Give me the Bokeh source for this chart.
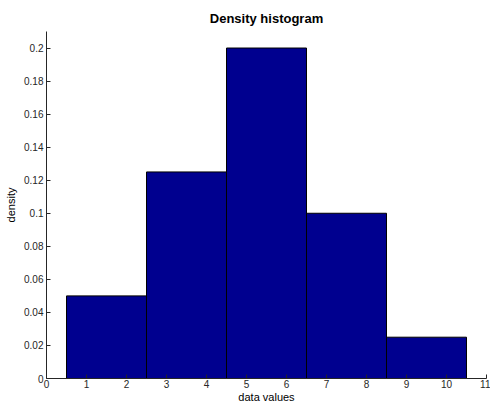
from bokeh.plotting import figure
from bokeh.models import FixedTicker, Range1d
from bokeh.embed import file_html
from bokeh.resources import INLINE

bin_left = [0.5, 2.5, 4.5, 6.5, 8.5]
bin_right = [2.5, 4.5, 6.5, 8.5, 10.5]
density = [0.05, 0.125, 0.2, 0.1, 0.025]

x_ticks = [0, 1, 2, 3, 4, 5, 6, 7, 8, 9, 10, 11]
x_tick_labels = ["0", "1", "2", "3", "4", "5", "6", "7", "8", "9", "10", "11"]
y_ticks = [0, 0.02, 0.04, 0.06, 0.08, 0.1, 0.12, 0.14, 0.16, 0.18, 0.2]
y_tick_labels = ["0", "0.02", "0.04", "0.06", "0.08", "0.1", "0.12", "0.14", "0.16", "0.18", "0.2"]

FONT = "Liberation Sans"

p = figure(width=490, height=405, output_backend="svg", toolbar_location=None,
           x_range=Range1d(0, 11), y_range=Range1d(0, 0.21),
           min_border_left=46, min_border_right=4, min_border_top=31, min_border_bottom=26)
p.title.text = "Density histogram"
p.title.align = "center"
p.title.vertical_align = "middle"
p.title.text_font = FONT
p.title.text_font_size = "13px"
p.title.text_font_style = "bold"
p.title.text_color = "#000000"

p.quad(left=bin_left, right=bin_right, bottom=0, top=density,
       fill_color="#00008F", line_color="#000000", line_width=1)

p.xgrid.visible = False
p.ygrid.visible = False
p.outline_line_color = None

for ax in (p.xaxis[0], p.yaxis[0]):
    ax.axis_line_color = "#262626"
    ax.major_tick_line_color = "#262626"
    ax.major_tick_in = 4
    ax.major_tick_out = 0
    ax.minor_tick_line_color = None
    ax.major_label_text_font = FONT
    ax.major_label_text_font_size = "10px"
    ax.major_label_text_color = "#262626"
    ax.axis_label_text_font = FONT
    ax.axis_label_text_font_size = "11px"
    ax.axis_label_text_font_style = "normal"
    ax.axis_label_text_color = "#000000"

p.xaxis.ticker = FixedTicker(ticks=x_ticks)
p.xaxis.major_label_overrides = {t: l for t, l in zip(x_ticks, x_tick_labels)}
p.yaxis.ticker = FixedTicker(ticks=y_ticks)
p.yaxis.major_label_overrides = {t: l for t, l in zip(y_ticks, y_tick_labels)}
p.xaxis.axis_label = "data values"
p.yaxis.axis_label = "density"
p.xaxis.axis_label_standoff = 0
p.yaxis.axis_label_standoff = 4
p.xaxis.major_label_standoff = 1
p.yaxis.major_label_standoff = 3

open("out.html", "w").write(file_html(p, INLINE))
